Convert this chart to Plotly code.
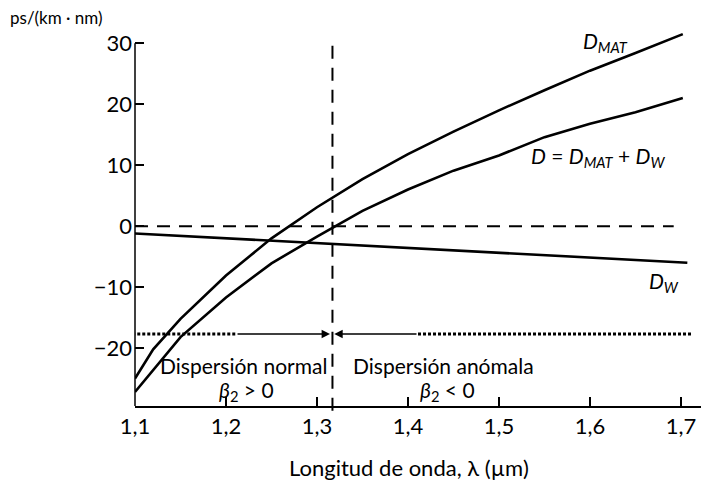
import plotly.graph_objects as go

# ---- data ----
wavelength = [1.10, 1.12, 1.15, 1.20, 1.25, 1.30, 1.35, 1.40, 1.45, 1.50, 1.55, 1.60, 1.65, 1.702]
d_mat = [-25.0, -20.2, -15.2, -8.1, -2.0, 3.1, 7.7, 11.8, 15.5, 19.0, 22.3, 25.5, 28.4, 31.5]
d_total = [-27.2, -23.6, -18.2, -11.7, -6.1, -1.7, 2.5, 6.0, 9.1, 11.6, 14.6, 16.8, 18.7, 21.0]
dw_wavelength = [1.10, 1.707]
d_w = [-1.2, -6.0]

lambda_zero = 1.317
regime_level = -17.7

x_tickvals = [1.1, 1.2, 1.3, 1.4, 1.5, 1.6, 1.7]
x_ticktext = ["1,1", "1,2", "1,3", "1,4", "1,5", "1,6", "1,7"]
y_tickvals = [-20, -10, 0, 10, 20, 30]
y_ticktext = ["\u221220", "\u221210", "0", "10", "20", "30"]

X_RANGE = [1.1, 1.7264]
Y_RANGE = [-29.5, 32.5]

FONT = "Lato"
BLACK = "#000000"

fig = go.Figure()
for xs, ys in [(wavelength, d_mat), (wavelength, d_total), (dw_wavelength, d_w)]:
    fig.add_trace(go.Scatter(x=xs, y=ys, mode="lines",
                             line=dict(color=BLACK, width=2.6),
                             showlegend=False, hoverinfo="skip"))

def to_paper_y(v):
    return (v - Y_RANGE[0]) / (Y_RANGE[1] - Y_RANGE[0])

dash_pat = "13px,9px"
shapes = [
    # y axis line (ends at the top tick, 30)
    dict(type="line", xref="paper", yref="y", x0=0, x1=0, y0=Y_RANGE[0], y1=30,
         line=dict(color=BLACK, width=1.5)),
    # zero dispersion horizontal dashed line
    dict(type="line", xref="x", yref="y", x0=1.1, x1=1.692, y0=0, y1=0,
         line=dict(color=BLACK, width=2, dash=dash_pat)),
    # zero dispersion wavelength vertical dashed line (runs slightly below the x axis)
    dict(type="line", xref="x", yref="paper", x0=lambda_zero, x1=lambda_zero,
         y0=to_paper_y(29.6), y1=to_paper_y(-30.8),
         line=dict(color=BLACK, width=2, dash=dash_pat)),
    # dotted regime markers
    dict(type="line", xref="x", yref="y", x0=1.097, x1=1.211, y0=regime_level, y1=regime_level,
         line=dict(color=BLACK, width=3, dash="3px,2px")),
    dict(type="line", xref="x", yref="y", x0=1.411, x1=1.712, y0=regime_level, y1=regime_level,
         line=dict(color=BLACK, width=3, dash="3px,2px")),
]

annotations = [
    dict(x=1.3143, y=regime_level, ax=1.211, ay=regime_level, xref="x", yref="y",
         axref="x", ayref="y", text="", showarrow=True, arrowhead=2, arrowsize=1.2,
         arrowwidth=1.4, arrowcolor=BLACK),
    dict(x=1.3190, y=regime_level, ax=1.411, ay=regime_level, xref="x", yref="y",
         axref="x", ayref="y", text="", showarrow=True, arrowhead=2, arrowsize=1.2,
         arrowwidth=1.4, arrowcolor=BLACK),
]

def label(text, x, y, size=21, xanchor="center"):
    annotations.append(dict(text=text, x=x, y=y, xref="x", yref="y", showarrow=False,
                            xanchor=xanchor, yanchor="middle",
                            font=dict(family=FONT, size=size, color=BLACK)))

label("<i>D<sub>MAT</sub></i>", 1.6165, 30.2)
label("<i>D</i> = <i>D<sub>MAT</sub></i> + <i>D<sub>W</sub></i>", 1.6093, 11.4)
label("<i>D<sub>W</sub></i>", 1.6813, -9.1)
label("Dispersión normal", 1.2192, -22.8)
label("<i>β</i><sub>2</sub> &gt; 0", 1.2225, -27.0)
label("Dispersión anómala", 1.4385, -22.8)
label("<i>β</i><sub>2</sub> &lt; 0", 1.4434, -27.0)

# axis titles
annotations.append(dict(text="ps/(km · nm)", x=-0.2228, y=1.027, xref="paper", yref="paper",
                        showarrow=False, xanchor="left", yanchor="middle",
                        font=dict(family=FONT, size=17, color=BLACK)))
annotations.append(dict(text="Longitud de onda, λ (µm)", x=0.4807, y=-0.1626, xref="paper", yref="paper",
                        showarrow=False, xanchor="center", yanchor="middle",
                        font=dict(family=FONT, size=22, color=BLACK)))

# the page adds an 8px body margin, so the figure is drawn 8px smaller and offset
fig.update_layout(
    width=701, height=477,
    margin=dict(l=127, r=4, t=20.25, b=78.5),
    paper_bgcolor="white", plot_bgcolor="white",
    shapes=shapes, annotations=annotations,
    font=dict(family=FONT, size=22, color=BLACK),
)
fig.update_xaxes(range=X_RANGE, tickvals=x_tickvals, ticktext=x_ticktext,
                 showgrid=False, zeroline=False, showline=True, linecolor=BLACK, linewidth=1.5,
                 ticks="inside", ticklen=9, tickwidth=1.5, tickcolor=BLACK,
                 tickfont=dict(family=FONT, size=22, color=BLACK))
fig.update_yaxes(range=Y_RANGE, tickvals=y_tickvals, ticktext=y_ticktext,
                 showgrid=False, zeroline=False, showline=False,
                 ticks="inside", ticklen=9, tickwidth=1.5, tickcolor=BLACK,
                 ticklabelstandoff=2,
                 tickfont=dict(family=FONT, size=22, color=BLACK))

fig.write_html("out.html")
